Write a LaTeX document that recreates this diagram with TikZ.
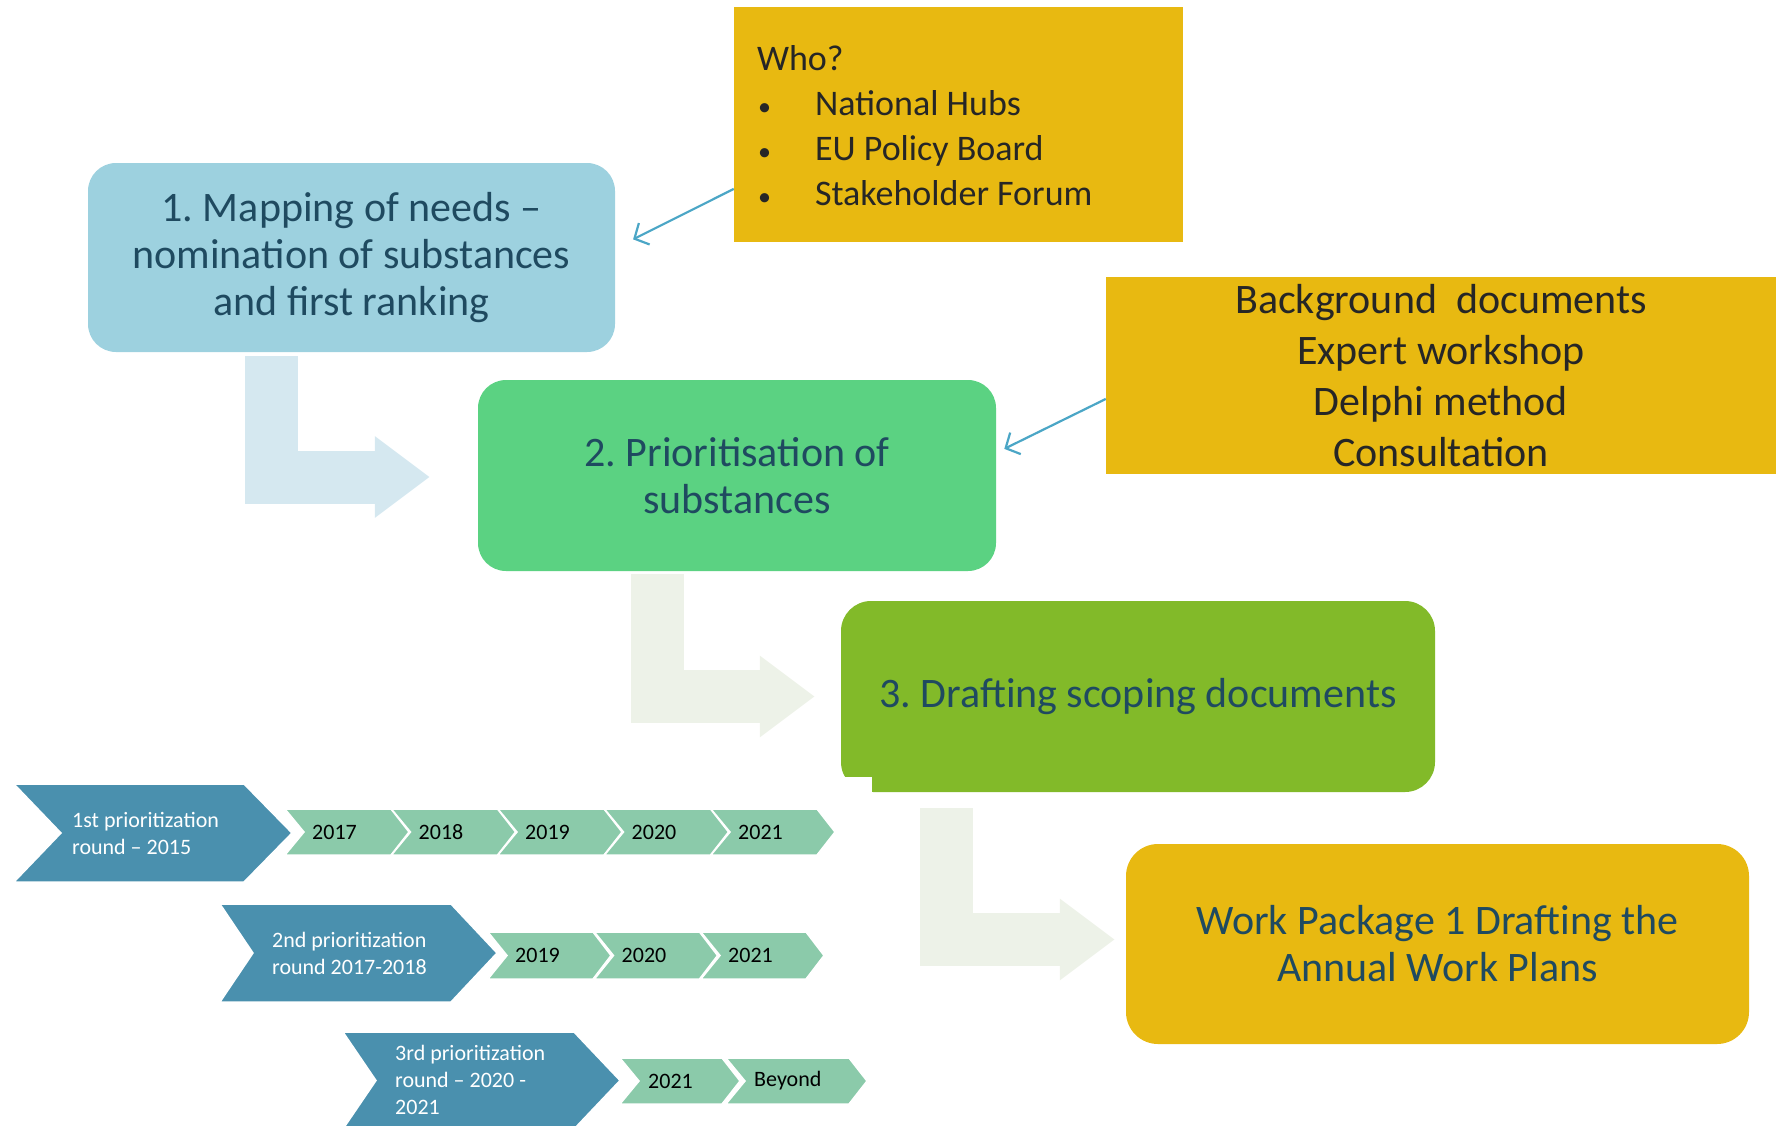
\documentclass[tikz,border=0pt]{standalone}
\usepackage{fontspec}
\setmainfont{Carlito}
\usetikzlibrary{arrows.meta}
\definecolor{mapblue}{HTML}{9DD1DF}
\definecolor{priogreen}{HTML}{5BD282}
\definecolor{draftgreen}{HTML}{82BA29}
\definecolor{gold}{HTML}{E8B911}
\definecolor{boxtext}{HTML}{1F4A60}
\definecolor{notetext}{HTML}{262626}
\definecolor{linkblue}{HTML}{4BA6C6}
\definecolor{bendblue}{HTML}{D5E8F0}
\definecolor{bendgrey}{HTML}{EDF2E8}
\definecolor{chevdark}{HTML}{4A90AE}
\definecolor{chevlight}{HTML}{8BCAAA}
\tikzset{x=1pt, y=-1pt,
    phase/.style={rounded corners=28pt, align=center, inner sep=0pt,
        text=boxtext, font=\fontsize{42}{47}\selectfont},
    notebox/.style={fill=gold, inner sep=0pt, text=notetext},
    conn/.style={draw=linkblue, line width=2.2pt, -{Straight Barb[length=11pt,width=24pt]}},
    bendarrow/.style={line width=53pt, -{Triangle[length=55pt,width=78pt]}},
    roundtext/.style={anchor=west, align=left, inner sep=0pt, text=white,
        font=\fontsize{22}{27}\selectfont},
    yeartext/.style={anchor=west, inner sep=0pt, font=\fontsize{22}{27}\selectfont},
    }
% fill, left, top, width, height, notch, tip
\newcommand\chevshape[7]{\filldraw[#1, draw=white, line width=1.5pt]
    (#2,#3) -- ++(#4-#7,0) -- ++(#7,#5/2) -- ++(-#7,#5/2) -- ++(-#4+#7,0) -- ++(#6,-#5/2) -- cycle;}
\newcommand\whobullet{\makebox[57pt][l]{\fontsize{26}{26}\selectfont\textbullet}}

\begin{document}
\frenchspacing
\begin{tikzpicture}
\useasboundingbox (0,0) rectangle (1783,1125);

\node[phase, fill=mapblue, minimum width=527pt, minimum height=189pt] (map) at (351.5,257.5)
    {1. Mapping of needs –\\nomination of substances\\and first ranking};
\node[phase, fill=priogreen, minimum width=518pt, minimum height=191pt] (prio) at (737,475.5)
    {2. Prioritisation of\\substances};
\node[phase, fill=draftgreen, rounded corners=30pt, minimum width=594pt, minimum height=191pt] (draft) at (1138,696.5)
    {3. Drafting scoping documents};
\fill[white] (841,777) rectangle (872.5,793);
\fill[draftgreen] (872,740) rectangle (1000,792);
\node[phase, fill=gold, rounded corners=32pt, minimum width=623pt, minimum height=200pt] (wp) at (1437.5,944)
    {Work Package 1 Drafting the\\Annual Work Plans};

\node[notebox, minimum width=449pt, minimum height=235pt] (who) at (958.5,124.5) {};
\node[anchor=north west, align=left, inner sep=0pt, text=notetext, font=\fontsize{36}{45}\selectfont]
    (wholist) at ([shift={(23,38)}]who.north west)
    {Who?\\
     \hspace*{1pt}\whobullet National Hubs\\
     \hspace*{1pt}\whobullet EU Policy Board\\
     \hspace*{1pt}\whobullet Stakeholder Forum};
\node[notebox, align=center, minimum width=670pt, minimum height=197pt, font=\fontsize{42}{51}\selectfont] (bg) at (1441,375.5)
    {Background\ \ documents\\Expert workshop\\Delphi method\\Consultation};

\draw[bendarrow, draw=bendblue] ([xshift=184pt,yshift=-4pt]map.south west) |- ([xshift=-48pt,yshift=-1.5pt]prio.west);
\draw[bendarrow, draw=bendgrey] ([xshift=179.5pt,yshift=-3pt]prio.south west) |- ([xshift=-26pt]draft.west);
\draw[bendarrow, draw=bendgrey] ([xshift=105.5pt,yshift=-16pt]draft.south west) |- ([xshift=-11pt,yshift=4.5pt]wp.west);

\draw[conn, shorten >=20pt] (who.196) -- (map.2);
\draw[conn, shorten >=9pt] (bg.184) -- (prio.5);

% first round
\foreach \yr [count=\i from 0] in {2017,2018,2019,2020,2021}{
    \chevshape{fill=chevlight}{285+106.5*\i}{809}{124}{46}{19}{18}
    \node[yeartext] (yearA\yr) at (312+106.5*\i,832) {\yr};
}
\chevshape{fill=chevdark}{14}{784}{278}{98}{47}{48}
\node[roundtext] (roundA) at (72,833) {1st prioritization\\round – 2015};

% second round
\foreach \yr [count=\i from 0] in {2019,2020,2021}{
    \chevshape{fill=chevlight}{488+106.5*\i}{932}{123}{47}{19}{18}
    \node[yeartext] (yearB\yr) at (515+106.5*\i,955.5) {\yr};
}
\chevshape{fill=chevdark}{220}{904}{277}{98}{33}{46}
\node[roundtext] (roundB) at (272,953) {2nd prioritization\\round 2017-2018};

% third round
\chevshape{fill=chevlight}{620}{1058}{120}{46}{19}{18}
\node[yeartext] (yearC2021) at (648,1081) {2021};
\chevshape{fill=chevlight}{726}{1058}{141}{46}{19}{18}
\node[yeartext] (yearCbeyond) at (754,1081) {Beyond};
\chevshape{fill=chevdark}{343}{1032}{277}{97}{33}{46}
\node[roundtext] (roundC) at (395,1080) {3rd prioritization\\round – 2020 -\\2021};
\end{tikzpicture}
\end{document}
